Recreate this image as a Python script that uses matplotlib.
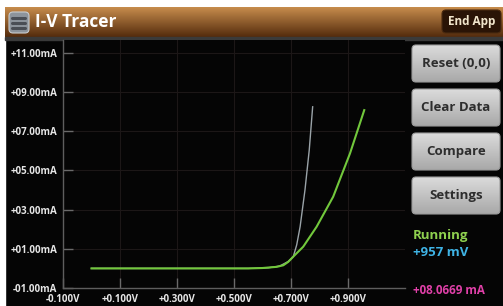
import numpy as np
import matplotlib
matplotlib.use('Agg')
import matplotlib.pyplot as plt
from matplotlib.patches import FancyBboxPatch, Rectangle

plt.rcParams['font.family'] = ['Open Sans', 'DejaVu Sans']

# curve data (V, mA)
green_v = [0.0, 0.3, 0.55, 0.6, 0.65, 0.673, 0.69, 0.708, 0.743, 0.79, 0.848, 0.907, 0.957]
green_i = [0.0, 0.0, 0.0, 0.02, 0.08, 0.16, 0.33, 0.6, 1.11, 2.13, 3.66, 5.87, 8.08]
gray_v = [0.0, 0.3, 0.55, 0.62, 0.66, 0.69, 0.708, 0.72, 0.732, 0.749, 0.764, 0.776]
gray_i = [0.0, 0.0, 0.0, 0.03, 0.12, 0.35, 0.6, 1.2, 2.13, 4.0, 6.04, 8.25]

y_ticks = [-1, 1, 3, 5, 7, 9, 11]
x_ticks = [-0.1, 0.1, 0.3, 0.5, 0.7, 0.9]
buttons = ['Reset (0,0)', 'Clear Data', 'Compare', 'Settings']
status = 'Running'
volt_txt = '+957 mV'
amp_txt = '+08.0669 mA'

W, H = 503, 306
fig = plt.figure(figsize=(W / 100, H / 100), dpi=100)
fig.patch.set_facecolor('#050505')

# background layer in pixel coordinates
bg = fig.add_axes([0, 0, 1, 1])
bg.set_xlim(0, W)
bg.set_ylim(H, 0)
bg.axis('off')
bg.add_patch(Rectangle((0, 0), W, H, color='#050505', zorder=0))
bg.add_patch(Rectangle((0, 0), 5, H, color='white', zorder=1))
bg.add_patch(Rectangle((0, 0), W, 7, color='white', zorder=1))

# title bar gradient
grad = np.linspace(0, 1, 64).reshape(-1, 1)
top = np.array([0.78, 0.55, 0.30])
bot = np.array([0.33, 0.17, 0.05])
img = top + (bot - top) * grad[..., None]
bg.imshow(img, extent=(5, W, 37, 7), aspect='auto', zorder=2)
bg.add_patch(Rectangle((5, 37), W - 5, 2.5, color='#3a3a3a', zorder=2))

# menu icon
bg.add_patch(FancyBboxPatch((9, 12), 20, 21, boxstyle='round,pad=0,rounding_size=4',
                            fc='#8d949c', ec='#c8ccd0', lw=0.8, zorder=3))
for yy in (17.5, 22.5, 27.5):
    bg.plot([12.5, 25.5], [yy, yy], color='#4a4e55', lw=2.2, solid_capstyle='round', zorder=4)
bg.text(35, 22, 'I-V Tracer', color='white', fontsize=12.5, fontweight='bold', va='center', zorder=4)

# End App
bg.add_patch(FancyBboxPatch((442, 10), 59, 23, boxstyle='round,pad=0,rounding_size=4',
                            fc='#2a1406', ec='#4a2a10', lw=0.8, zorder=3))
bg.text(471.5, 21.5, 'End App', color='#f2e6cc', fontsize=8.5, fontweight='bold',
        ha='center', va='center', zorder=4)

# side buttons
btn_top = [45, 89, 133, 177]
for label, yt in zip(buttons, btn_top):
    bimg = np.array([0.86, 0.86, 0.86]) + (np.array([0.66, 0.66, 0.66]) - 0.86) * grad[..., None]
    p = FancyBboxPatch((412, yt), 88, 37, boxstyle='round,pad=0,rounding_size=4',
                       fc='none', ec='#9a9a9a', lw=0.8, zorder=4)
    bg.add_patch(p)
    im = bg.imshow(bimg, extent=(412, 500, yt + 37, yt), aspect='auto', zorder=3)
    im.set_clip_path(p)
    bg.text(456, yt + 18.5, label, color='#2e2e2e', fontsize=9.5, fontweight='bold',
            ha='center', va='center', zorder=5)

bg.text(413, 235, status, color='#8fd14f', fontsize=9.5, fontweight='bold', va='center')
bg.text(413, 252, volt_txt, color='#3fb4e6', fontsize=9.5, fontweight='bold', va='center')
bg.text(413, 290, amp_txt, color='#e040a8', fontsize=8.4, fontweight='bold', va='center')

# plot area
x0, x1, y0, y1 = 63, 405, 40, 288
ax = fig.add_axes([x0 / W, (H - y1) / H, (x1 - x0) / W, (y1 - y0) / H])
ax.set_facecolor('#050505')
ax.set_xlim(-0.1, 1.1)
ax.set_ylim(-1, 11.66)
ax.set_xticks(x_ticks)
ax.set_xticklabels(['{:+.3f}V'.format(v) for v in x_ticks])
ax.set_yticks(y_ticks)
ax.set_yticklabels(['{:+06.2f}mA'.format(v) for v in y_ticks])
ax.tick_params(axis='both', direction='in', colors='#6a6a6a', labelcolor='#e6e6e6',
               labelsize=7, length=7, width=1, pad=4)
for lab in ax.get_xticklabels() + ax.get_yticklabels():
    lab.set_fontweight('bold')
ax.grid(True, color='#1c1717', lw=0.8)
for s in ('top', 'right'):
    ax.spines[s].set_visible(False)
for s in ('left', 'bottom'):
    ax.spines[s].set_color('#5e5e5e')
    ax.spines[s].set_linewidth(1)

ax.plot(gray_v, gray_i, color='#9aa3a8', lw=1.0)
ax.plot(green_v, green_i, color='#72c83c', lw=1.5)

fig.savefig('out.png', dpi=100, facecolor=fig.get_facecolor())
